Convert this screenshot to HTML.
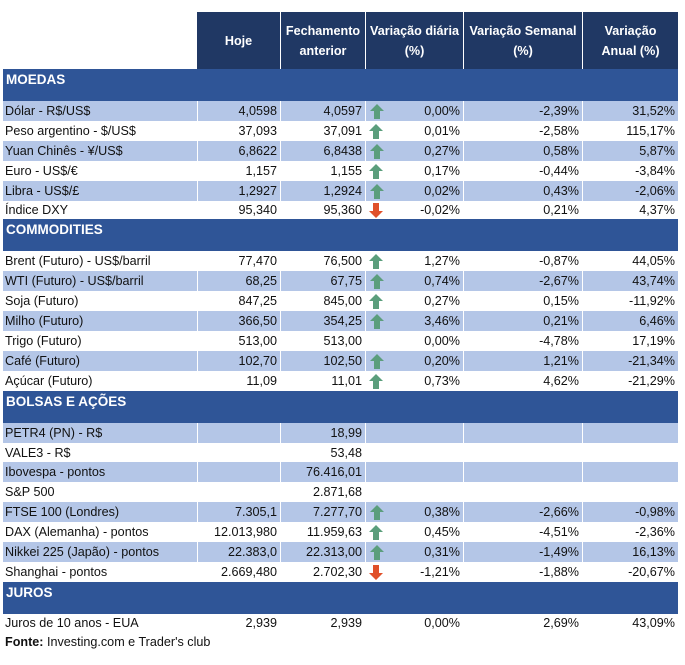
<!DOCTYPE html>
<html><head><meta charset="utf-8"><style>
body{margin:0;width:685px;height:665px;background:#fff;font-family:"Liberation Sans",sans-serif;font-size:12.6px;color:#111;position:relative;overflow:hidden}
.r{position:absolute;left:3px;width:675px;height:20px;display:flex;line-height:20px}
.r.s{background:#b4c6e7}
.r div{box-sizing:border-box;text-align:right;padding-right:3px;white-space:nowrap;position:relative}
.r.s div+div{border-left:1px solid #fff}
.r div:nth-child(1){width:194px;text-align:left;padding-left:2px}
.r div:nth-child(2){width:83px}
.r div:nth-child(3){width:85px}
.r div:nth-child(4){width:98px}
.r div:nth-child(5){width:119px}
.r div:nth-child(6){width:96px}
.band{position:absolute;left:3px;width:675px;height:32px;background:#2f5597;color:#fff;font-weight:bold;font-size:13.5px;padding-left:3px;box-sizing:border-box;line-height:22px}
.hd{position:absolute;top:12px;left:197px;height:57px;display:flex;background:#203864;color:#fff;font-weight:bold;font-size:12.6px}
.hd div{display:flex;align-items:center;justify-content:center;text-align:center;line-height:20px;box-sizing:border-box;border-left:1px solid #fff}
.hd div:first-child{border-left:none}
.u,.d{position:absolute;left:4px;top:3px;width:14px;height:15px}
</style></head><body>
<svg width="0" height="0" style="position:absolute"><defs>
<symbol id="up" viewBox="0 0 14 15"><path d="M7 0L14 7H10V15H4V7H0Z" fill="#5b9e7c"/></symbol>
<symbol id="dn" viewBox="0 0 14 15"><path d="M7 15L14 8H10V0H4V8H0Z" fill="#e0502a"/></symbol>
</defs></svg>
<div class="hd">
<div style="width:83px">Hoje</div>
<div style="width:85px">Fechamento<br>anterior</div>
<div style="width:98px">Variação diária<br>(%)</div>
<div style="width:119px">Variação Semanal<br>(%)</div>
<div style="width:96px">Variação<br>Anual (%)</div>
</div>
<div class="band" style="top:69px">MOEDAS</div>
<div class="r s" style="top:101px"><div>Dólar - R$/US$</div><div>4,0598</div><div>4,0597</div><div><svg class="u"><use href="#up"/></svg>0,00%</div><div>-2,39%</div><div>31,52%</div></div>
<div class="r" style="top:121px"><div>Peso argentino - $/US$</div><div>37,093</div><div>37,091</div><div><svg class="u"><use href="#up"/></svg>0,01%</div><div>-2,58%</div><div>115,17%</div></div>
<div class="r s" style="top:141px"><div>Yuan Chinês - ¥/US$</div><div>6,8622</div><div>6,8438</div><div><svg class="u"><use href="#up"/></svg>0,27%</div><div>0,58%</div><div>5,87%</div></div>
<div class="r" style="top:161px"><div>Euro - US$/€</div><div>1,157</div><div>1,155</div><div><svg class="u"><use href="#up"/></svg>0,17%</div><div>-0,44%</div><div>-3,84%</div></div>
<div class="r s" style="top:181px"><div>Libra - US$/£</div><div>1,2927</div><div>1,2924</div><div><svg class="u"><use href="#up"/></svg>0,02%</div><div>0,43%</div><div>-2,06%</div></div>
<div class="r" style="top:200px"><div>Índice DXY</div><div>95,340</div><div>95,360</div><div><svg class="d"><use href="#dn"/></svg>-0,02%</div><div>0,21%</div><div>4,37%</div></div>
<div class="band" style="top:219px">COMMODITIES</div>
<div class="r" style="top:251px"><div>Brent (Futuro) - US$/barril</div><div>77,470</div><div>76,500</div><div><svg class="u"><use href="#up"/></svg>1,27%</div><div>-0,87%</div><div>44,05%</div></div>
<div class="r s" style="top:271px"><div>WTI (Futuro) - US$/barril</div><div>68,25</div><div>67,75</div><div><svg class="u"><use href="#up"/></svg>0,74%</div><div>-2,67%</div><div>43,74%</div></div>
<div class="r" style="top:291px"><div>Soja (Futuro)</div><div>847,25</div><div>845,00</div><div><svg class="u"><use href="#up"/></svg>0,27%</div><div>0,15%</div><div>-11,92%</div></div>
<div class="r s" style="top:311px"><div>Milho (Futuro)</div><div>366,50</div><div>354,25</div><div><svg class="u"><use href="#up"/></svg>3,46%</div><div>0,21%</div><div>6,46%</div></div>
<div class="r" style="top:331px"><div>Trigo (Futuro)</div><div>513,00</div><div>513,00</div><div>0,00%</div><div>-4,78%</div><div>17,19%</div></div>
<div class="r s" style="top:351px"><div>Café (Futuro)</div><div>102,70</div><div>102,50</div><div><svg class="u"><use href="#up"/></svg>0,20%</div><div>1,21%</div><div>-21,34%</div></div>
<div class="r" style="top:371px"><div>Açúcar (Futuro)</div><div>11,09</div><div>11,01</div><div><svg class="u"><use href="#up"/></svg>0,73%</div><div>4,62%</div><div>-21,29%</div></div>
<div class="band" style="top:391px">BOLSAS E AÇÕES</div>
<div class="r s" style="top:423px"><div>PETR4 (PN) - R$</div><div></div><div>18,99</div><div></div><div></div><div></div></div>
<div class="r" style="top:443px"><div>VALE3 - R$</div><div></div><div>53,48</div><div></div><div></div><div></div></div>
<div class="r s" style="top:462px"><div>Ibovespa - pontos</div><div></div><div>76.416,01</div><div></div><div></div><div></div></div>
<div class="r" style="top:482px"><div>S&amp;P 500</div><div></div><div>2.871,68</div><div></div><div></div><div></div></div>
<div class="r s" style="top:502px"><div>FTSE 100 (Londres)</div><div>7.305,1</div><div>7.277,70</div><div><svg class="u"><use href="#up"/></svg>0,38%</div><div>-2,66%</div><div>-0,98%</div></div>
<div class="r" style="top:522px"><div>DAX (Alemanha) - pontos</div><div>12.013,980</div><div>11.959,63</div><div><svg class="u"><use href="#up"/></svg>0,45%</div><div>-4,51%</div><div>-2,36%</div></div>
<div class="r s" style="top:542px"><div>Nikkei 225 (Japão) - pontos</div><div>22.383,0</div><div>22.313,00</div><div><svg class="u"><use href="#up"/></svg>0,31%</div><div>-1,49%</div><div>16,13%</div></div>
<div class="r" style="top:562px"><div>Shanghai - pontos</div><div>2.669,480</div><div>2.702,30</div><div><svg class="d"><use href="#dn"/></svg>-1,21%</div><div>-1,88%</div><div>-20,67%</div></div>
<div class="band" style="top:582px">JUROS</div>
<div class="r" style="top:613px"><div>Juros de 10 anos - EUA</div><div>2,939</div><div>2,939</div><div>0,00%</div><div>2,69%</div><div>43,09%</div></div>
<div style="position:absolute;left:5px;top:632px;line-height:20px"><b>Fonte:</b> Investing.com e Trader's club</div>
</body></html>
